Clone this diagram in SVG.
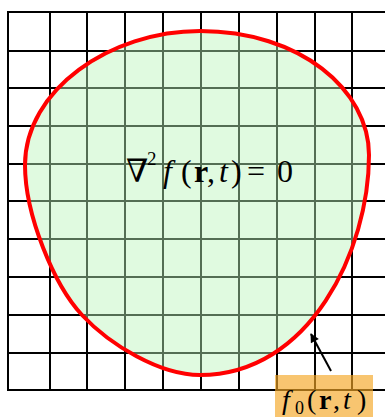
<svg xmlns="http://www.w3.org/2000/svg" width="385" height="417" viewBox="0 0 385 417">
  <style>
    .grid line { stroke: #000; stroke-width: 2; }
    .math { font-family: "Liberation Serif", "DejaVu Serif", serif; fill: #000; }
    .it { font-style: italic; }
    .bf { font-weight: bold; }
  </style>
  <defs>
    <marker id="ah" viewBox="0 0 10 10" refX="9" refY="5" markerWidth="11" markerHeight="9" orient="auto" markerUnits="userSpaceOnUse">
      <path d="M0,0 L10,5 L0,10 Z" fill="#000"/>
    </marker>
  </defs>
  <rect width="385" height="417" fill="#fff"/>
  <g id="grid" class="grid">
    <line x1="8" y1="12" x2="385" y2="12"/>
    <line x1="8" y1="51" x2="385" y2="51"/>
    <line x1="8" y1="88" x2="385" y2="88"/>
    <line x1="8" y1="126" x2="385" y2="126"/>
    <line x1="8" y1="164" x2="385" y2="164"/>
    <line x1="8" y1="201" x2="385" y2="201"/>
    <line x1="8" y1="239" x2="385" y2="239"/>
    <line x1="8" y1="277" x2="385" y2="277"/>
    <line x1="8" y1="315" x2="385" y2="315"/>
    <line x1="8" y1="353" x2="385" y2="353"/>
    <line x1="8" y1="390" x2="385" y2="390"/>
    <line x1="8" y1="11" x2="8" y2="391"/>
    <line x1="50" y1="11" x2="50" y2="391"/>
    <line x1="87" y1="11" x2="87" y2="391"/>
    <line x1="125" y1="11" x2="125" y2="391"/>
    <line x1="163" y1="11" x2="163" y2="391"/>
    <line x1="201" y1="11" x2="201" y2="391"/>
    <line x1="239" y1="11" x2="239" y2="391"/>
    <line x1="277" y1="11" x2="277" y2="391"/>
    <line x1="315" y1="11" x2="315" y2="391"/>
    <line x1="352" y1="11" x2="352" y2="391"/>
  </g>
  <g id="region">
    <path d="M200,31 C300,31 369,90 369,155 C369,250 310,375 200,375 C160,375 110,345 82,315 C54,285 25,215 25,165 C25,90 110,31 200,31 Z" fill="rgb(186,244,186)" fill-opacity="0.45" stroke="#ff0000" stroke-width="4"/>
    <text class="math" font-size="32" y="182"><tspan x="126">∇</tspan><tspan x="147" y="165" font-size="19">2</tspan><tspan class="it" x="163" y="182">f</tspan><tspan x="181">(</tspan><tspan class="bf" x="194">r</tspan><tspan x="207">,</tspan><tspan class="it" x="219">t</tspan><tspan x="231">)</tspan><tspan x="247">=</tspan><tspan x="277">0</tspan></text>
  </g>
  <g id="boundary-label">
    <rect x="275" y="375" width="98" height="42" fill="#f5a623" fill-opacity="0.65"/>
    <text class="math" font-size="28" y="409"><tspan class="it" x="282">f</tspan><tspan x="295" y="414" font-size="18">0</tspan><tspan x="307" y="409">(</tspan><tspan class="bf" x="319">r</tspan><tspan x="333">,</tspan><tspan class="it" x="343">t</tspan><tspan x="357">)</tspan></text>
  </g>
  <g id="connectors">
    <line x1="331" y1="371" x2="311" y2="334" stroke="#000" stroke-width="2" marker-end="url(#ah)"/>
  </g>
</svg>
